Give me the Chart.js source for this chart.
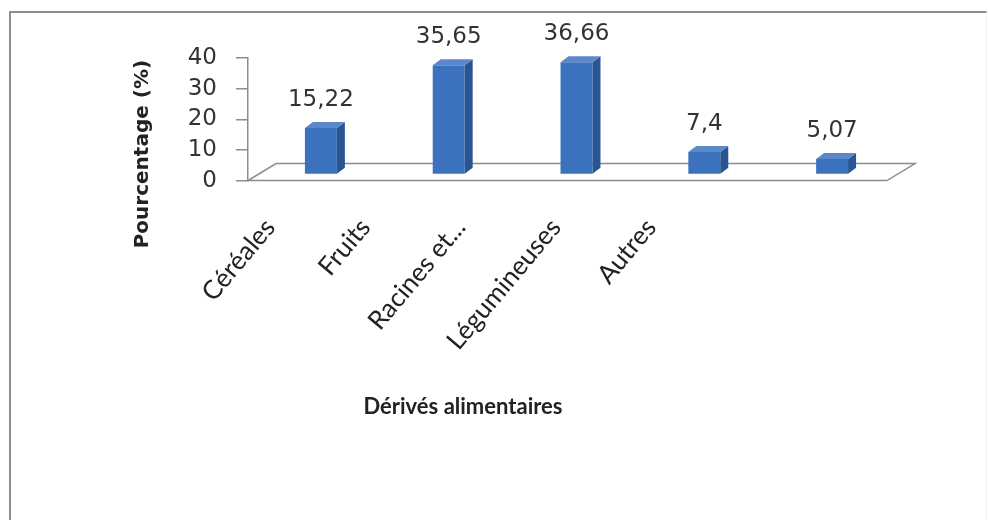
<!DOCTYPE html>
<html lang="fr">
<head>
<meta charset="utf-8">
<title>Dérivés alimentaires</title>
<script src="https://cdn.jsdelivr.net/npm/chart.js@4.4.1/dist/chart.umd.min.js"></script>
<style>
  html, body { margin: 0; background: #fff; }
  #wrap { position: relative; width: 988px; height: 520px; overflow: hidden; }
  #frame {
    position: absolute; left: 9px; top: 11px; right: 1px; bottom: -4px;
    border-left: 2px solid #8e8e8e; border-top: 2px solid #8e8e8e;
    border-right: 1px solid #f0f0f0;
  }
  canvas { position: absolute; left: 0; top: 0; }
</style>
</head>
<body>
<div id="wrap">
  <div id="frame"></div>
  <canvas id="chart" width="988" height="520"></canvas>
</div>
<script>
const categories  = ['Céréales', 'Fruits', 'Racines et...', 'Légumineuses', 'Autres'];
const percentages = [15.22, 35.65, 36.66, 7.4, 5.07];
const yTicks      = [0, 10, 20, 30, 40];

// --- fake 3D: bars sit a little back on the floor ---
const SHIFT_X = 9, SHIFT_Y = -6;     // bars pushed back into the floor
const BAR_DX = 8, BAR_DY = 6;        // bar depth
const FLOOR_DX = 28, FLOOR_DY = 17;  // floor depth

const FRONT = '#3b71bd';
const SIDE  = '#2a5593';
const TOP   = '#5a88cb';
const AXIS  = '#8c8c8c';

const fr = v => String(v).replace('.', ',');

const pseudo3d = {
  id: 'pseudo3d',
  beforeDatasetsDraw(chart) {
    const { ctx, chartArea: a, scales: { y } } = chart;
    const y0 = y.getPixelForValue(0);
    ctx.save();
    ctx.beginPath();
    ctx.moveTo(a.left, y0);
    ctx.lineTo(a.right, y0);
    ctx.lineTo(a.right + FLOOR_DX, y0 - FLOOR_DY);
    ctx.lineTo(a.left + FLOOR_DX, y0 - FLOOR_DY);
    ctx.closePath();
    ctx.fillStyle = '#fff';
    ctx.fill();
    ctx.strokeStyle = AXIS;
    ctx.lineWidth = 1.5;
    ctx.stroke();
    ctx.restore();

    // bars and their labels are drawn in the shifted frame
    ctx.save();
    ctx.translate(SHIFT_X, SHIFT_Y);
  },
  afterDatasetsDraw(chart) {
    const { ctx } = chart;
    const meta = chart.getDatasetMeta(0);
    meta.data.forEach((el, i) => {
      const { x, y, base, width } = el.getProps(['x', 'y', 'base', 'width'], true);
      const l = x - width / 2, r = x + width / 2;

      ctx.fillStyle = SIDE;
      ctx.beginPath();
      ctx.moveTo(r, y);
      ctx.lineTo(r + BAR_DX, y - BAR_DY);
      ctx.lineTo(r + BAR_DX, base - BAR_DY);
      ctx.lineTo(r, base);
      ctx.closePath();
      ctx.fill();

      ctx.fillStyle = TOP;
      ctx.beginPath();
      ctx.moveTo(l, y);
      ctx.lineTo(l + BAR_DX, y - BAR_DY);
      ctx.lineTo(r + BAR_DX, y - BAR_DY);
      ctx.lineTo(r, y);
      ctx.closePath();
      ctx.fill();

      ctx.font = '23px "DejaVu Sans"';
      ctx.fillStyle = '#333';
      ctx.textAlign = 'center';
      ctx.textBaseline = 'middle';
      ctx.fillText(fr(percentages[i]), x, y - 28);
    });
    ctx.restore();
  }
};

new Chart(document.getElementById('chart'), {
  type: 'bar',
  data: {
    labels: categories,
    datasets: [{
      data: percentages,
      backgroundColor: FRONT,
      borderWidth: 0,
      barPercentage: 0.25,
      categoryPercentage: 1,
      clip: false,
    }]
  },
  options: {
    responsive: false,
    animation: false,
    devicePixelRatio: 1,
    layout: { padding: { left: 39, right: 101, top: 58, bottom: 100 } },
    plugins: {
      legend: { display: false },
      tooltip: { enabled: false },
      title: {
        display: true,
        position: 'bottom',
        text: 'Dérivés alimentaires',
        font: { family: 'Lato', size: 22, weight: 'bold' },
        color: '#222',
        padding: 0,
      },
    },
    scales: {
      x: { display: false },
      // second bottom axis only carries the slanted category names
      // (offset must be off, bar charts merge offset:true into every x scale)
      xl: {
        type: 'linear',
        position: 'bottom',
        bounds: 'data',
        offset: false,
        min: -0.231,
        max: 6.478,
        afterBuildTicks: s => { s.ticks = categories.map((c, i) => ({ value: i })); },
        afterFit: s => { s.height = 213; },
        grid: { display: false, drawTicks: false, offset: false },
        border: { display: false },
        ticks: {
          autoSkip: false,
          minRotation: 50,
          maxRotation: 50,
          padding: 32,
          color: '#222',
          font: { family: 'Lato', size: 26 },
          callback: v => categories[v],
        },
      },
      y: {
        min: 0,
        max: 40,
        afterBuildTicks: s => { s.ticks = yTicks.map(v => ({ value: v })); },
        afterFit: s => { s.width = 209; },
        grid: { drawOnChartArea: false, drawTicks: true, tickLength: 12, color: AXIS, lineWidth: 1.5 },
        border: { display: true, color: AXIS, width: 1.5 },
        ticks: { color: '#333', padding: 19, font: { family: 'DejaVu Sans', size: 23 } },
        title: {
          display: true,
          // trailing spaces push the title down the axis
          text: 'Pourcentage (%)' + ' '.repeat(10),
          color: '#222',
          font: { family: 'DejaVu Sans', size: 20, weight: 'bold' },
          padding: { top: 92, bottom: 0 },
        },
      },
    },
  },
  plugins: [pseudo3d],
});
</script>
</body>
</html>
